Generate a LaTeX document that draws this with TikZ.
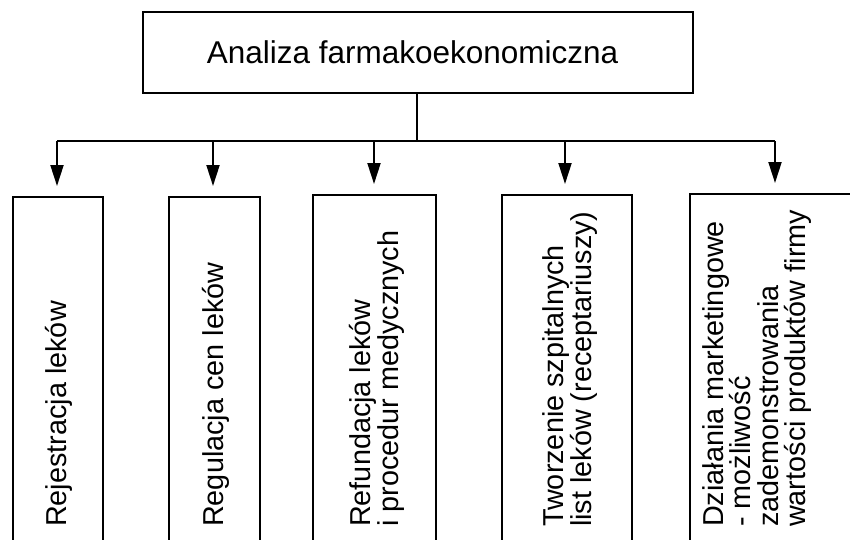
\documentclass[tikz,border=0pt]{standalone}
\usepackage{fontspec}
\setmainfont{Liberation Sans}
\usetikzlibrary{arrows.meta}
\tikzset{
  ln/.style={line width=2pt, draw=black},
  arr/.style={ln, -{Triangle[length=21pt,width=13pt]}, shorten >=10pt},
  boxst/.style={ln, rectangle, inner sep=0pt},
  lbl/.style={rotate=90, anchor=west, inner sep=0pt, align=left,
    font=\fontsize{28.8}{27.5}\selectfont},
}
\begin{document}
\begin{tikzpicture}[x=1pt, y=-1pt]
\useasboundingbox (0,0) rectangle (850,539);
\clip (0,0) rectangle (850,539);
% top box
\node[boxst, minimum width=550pt, minimum height=81pt,
  font=\fontsize{31.5}{36}\selectfont] (top) at (418,52.5) {Analiza farmakoekonomiczna\hspace*{11pt}};
% bottom boxes
\node[boxst, minimum width=90pt, minimum height=370pt, anchor=north] (b1) at (57.5,196) {};
\node[boxst, minimum width=91pt, minimum height=370pt, anchor=north] (b2) at (214.5,196) {};
\node[boxst, minimum width=123pt, minimum height=370pt, anchor=north] (b3) at (374.5,194) {};
\node[boxst, minimum width=130pt, minimum height=370pt, anchor=north] (b4) at (567,194) {};
\node[boxst, minimum width=200pt, minimum height=370pt, anchor=north west] (b5) at (689,193) {};
% labels
\node[lbl] (t1) at (59,527) {Rejestracja leków};
\node[lbl] (t2) at (216,527) {Regulacja cen leków};
\node[lbl] (t3) at (377,527) {Refundacja leków\\i procedur medycznych};
\node[lbl] (t4) at (570,527) {Tworzenie szpitalnych\\list leków (receptariuszy)};
\node[lbl] (t5) at (757,527) {Działania marketingowe\\- możliwość\\zademonstrowania\\wartości produktów firmy};
% connectors
\coordinate (j) at (417,141);
\coordinate (h1) at (57,141);
\coordinate (h2) at (213,141);
\coordinate (h3) at (374,141);
\coordinate (h4) at (565,141);
\coordinate (h5) at (775,141);
\draw[ln] (top.south -| j) -- (j);
\draw[ln] (h1) -- (h5);
\draw[arr] (h1) -- (h1 |- b1.north);
\draw[arr] (h2) -- (h2 |- b2.north);
\draw[arr] (h3) -- (h3 |- b3.north);
\draw[arr] (h4) -- (h4 |- b4.north);
\draw[arr] (h5) -- (h5 |- b5.north);
\end{tikzpicture}
\end{document}
